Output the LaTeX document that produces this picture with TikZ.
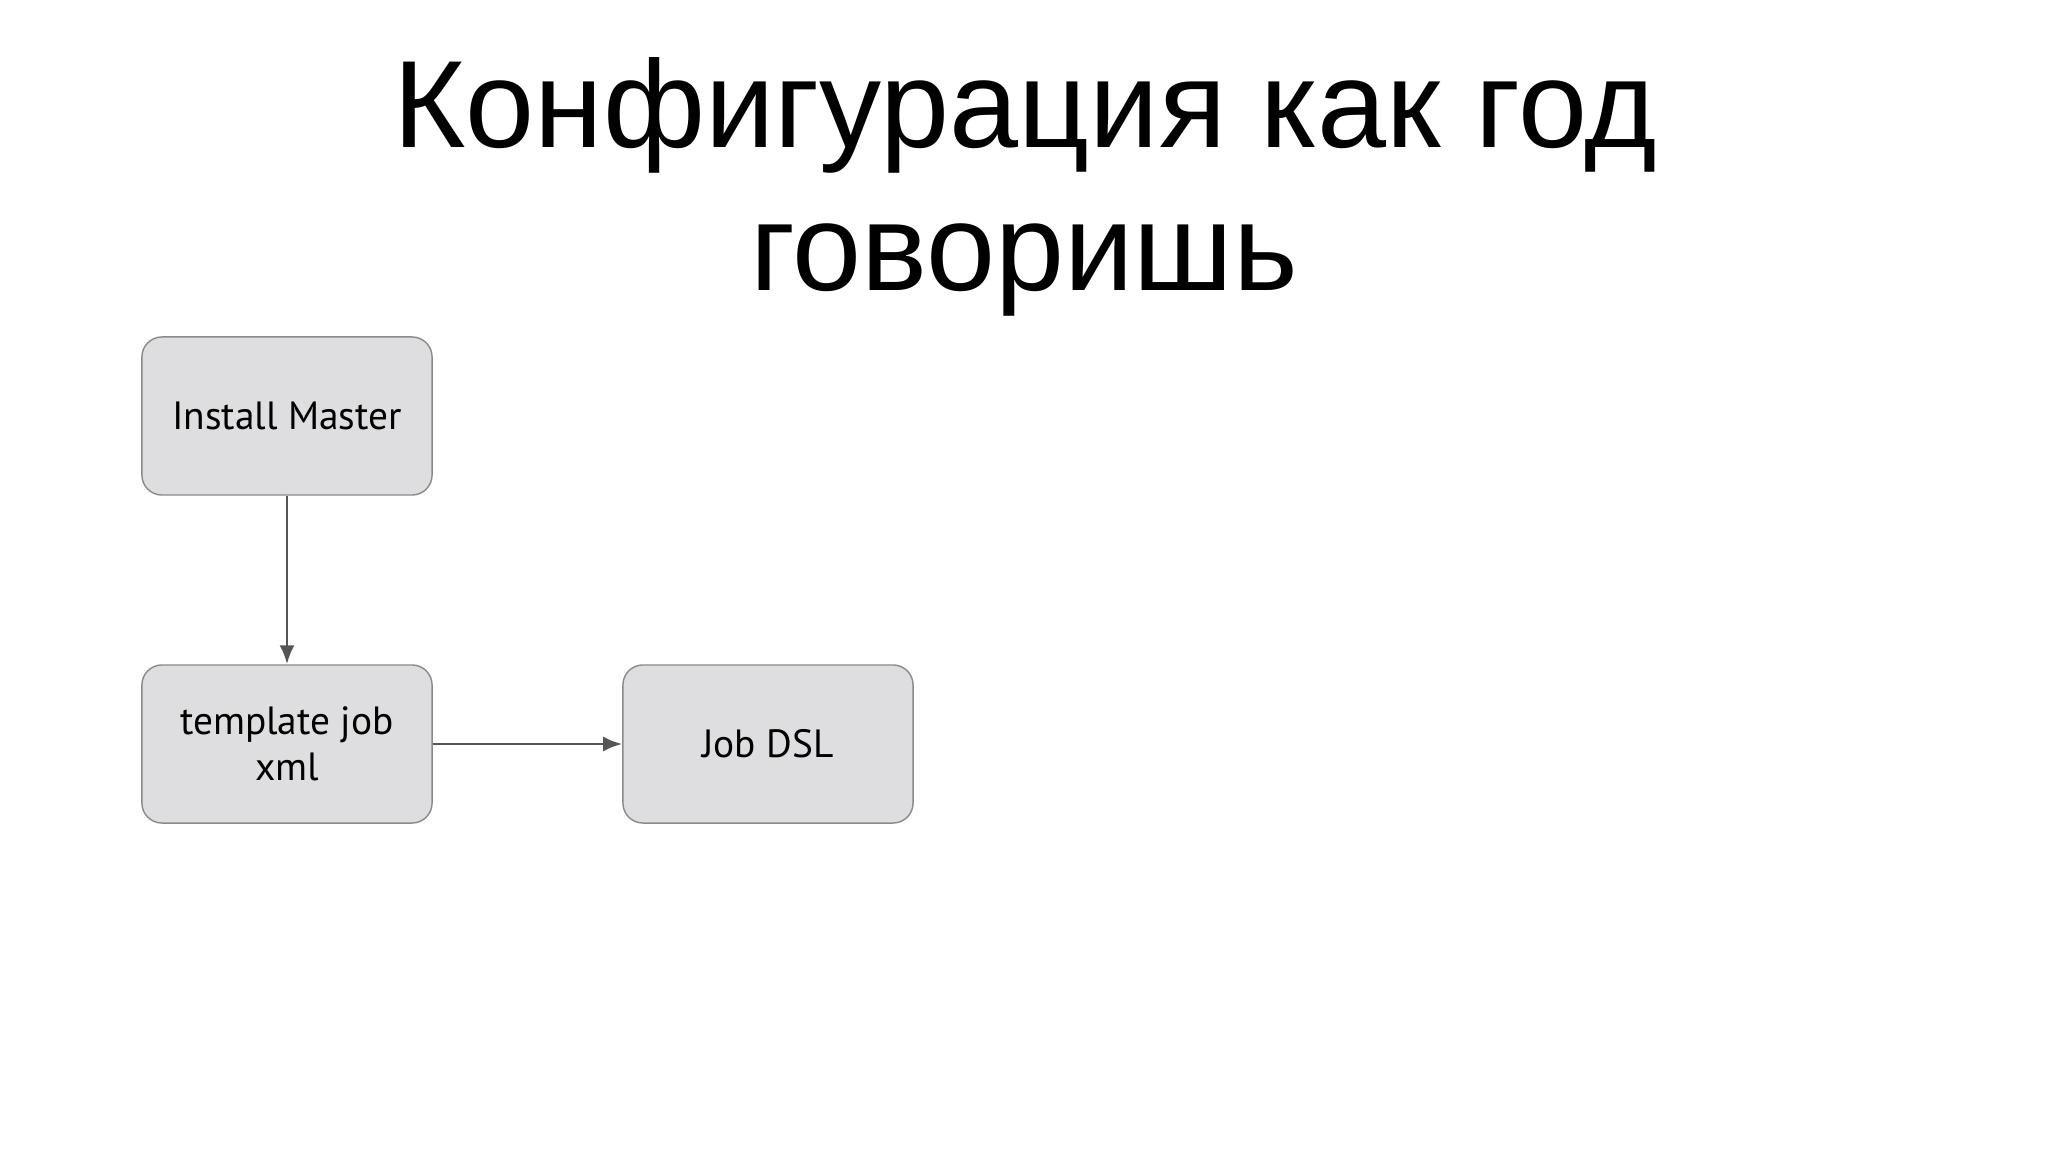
\documentclass[tikz,border=0pt]{standalone}
\usepackage{fontspec}
\setmainfont{Liberation Sans}
\newfontfamily\boxfont{PT Sans}
\usepackage{tikz}
\usetikzlibrary{arrows.meta}

\definecolor{boxfill}{HTML}{DEDEE0}
\definecolor{boxline}{HTML}{8A8A8C}
\definecolor{linkgray}{HTML}{555558}

\begin{document}
\begin{tikzpicture}[x=0.01cm, y=-0.01cm,
    stage/.style={draw=boxline, line width=0.4pt, fill=boxfill, rounded corners=0.2cm,
        minimum width=2.9cm, minimum height=1.58cm, inner sep=1pt, align=center,
        font=\boxfont\fontsize{11.2}{13}\selectfont},
    title/.style={anchor=base, inner sep=0pt, font=\fontsize{35.3}{40}\selectfont},
    link/.style={draw=linkgray, line width=0.85pt, -{Latex[length=5.4pt, width=4.3pt]}}]
    \useasboundingbox (0, 0) rectangle (2048, 1152); % page
    \node[title] (titletop) at (1025, 148) {Конфигурация как год};
    \node[title] (titlebot) at (1024, 291) {говоришь};

    \node[stage] (master) at (287, 416) {Install Master};
    \node[stage] (template) at (287, 744) {template job\\xml};
    \node[stage] (jobdsl) at (768, 744) {Job DSL};

    \draw[link] (master) -- (template);
    \draw[link] (template) -- (jobdsl);
\end{tikzpicture}
\end{document}
